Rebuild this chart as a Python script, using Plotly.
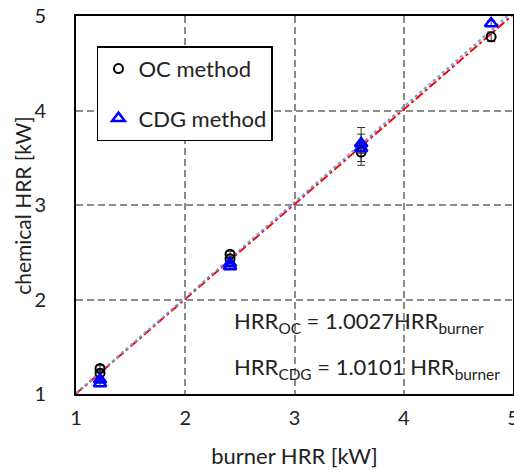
import plotly.graph_objects as go

oc_x = [1.22, 1.22, 2.41, 2.41, 3.61, 3.61, 4.80]
oc_y = [1.27, 1.22, 2.48, 2.43, 3.62, 3.56, 4.78]
oc_err = [0.03, 0.03, 0.03, 0.03, 0.20, 0.10, 0.05]
cdg_x = [1.22, 1.22, 2.41, 2.41, 3.61, 3.61, 4.80]
cdg_y = [1.15, 1.11, 2.38, 2.35, 3.65, 3.60, 4.92]
cdg_err = [0.03, 0.03, 0.03, 0.03, 0.10, 0.05, 0.03]
fit_x = [1, 5]
oc_slope = 1.0027
cdg_slope = 1.0101
ticks = [1, 2, 3, 4, 5]

FONT = "Lato"
fig = go.Figure()
fig.add_trace(go.Scatter(x=fit_x, y=[oc_slope * v for v in fit_x], mode="lines",
                         line=dict(color="red", width=2, dash="dashdot"), showlegend=False))
fig.add_trace(go.Scatter(x=fit_x, y=[cdg_slope * v for v in fit_x], mode="lines",
                         line=dict(color="#6a9fd8", width=2, dash="dot"), showlegend=False))
fig.add_trace(go.Scatter(x=oc_x, y=oc_y, mode="markers", name="OC method",
                         marker=dict(symbol="circle-open", size=9, color="black", line=dict(width=2)),
                         error_y=dict(type="data", array=oc_err, color="#333", thickness=1, width=4),
                         legendgroup="a"))
fig.add_trace(go.Scatter(x=cdg_x, y=cdg_y, mode="markers", name="CDG method",
                         marker=dict(symbol="triangle-up-open", size=11, color="blue", line=dict(width=2.5)),
                         error_y=dict(type="data", array=cdg_err, color="#333", thickness=1, width=4),
                         legendgroup="b"))

axis_common = dict(range=[1, 5], tickvals=ticks, showgrid=True, gridcolor="#8c8c8c",
                   griddash="7px,4px", gridwidth=1.5, showline=True, linecolor="black", linewidth=2,
                   mirror=True, zeroline=False, ticks="", tickfont=dict(size=20, color="#222"),
                   title_font=dict(size=22, color="#222"), automargin=False,
                   ticklabeloverflow="allow")
fig.update_xaxes(**axis_common, title_text="burner HRR [kW]", ticklabelstandoff=5, title_standoff=21)
fig.update_yaxes(**axis_common, ticklabelstandoff=24)

fig.add_annotation(x=-0.124, y=0.5, xref="paper", yref="paper", xanchor="center", yanchor="middle",
                   text="chemical HRR [kW]", textangle=-90, showarrow=False,
                   font=dict(size=21, color="#222", family=FONT))
fig.add_annotation(x=0.358, y=0.19, xref="paper", yref="paper", xanchor="left", yanchor="middle",
                   text="HRR<sub>OC</sub> = 1.0027HRR<sub>burner</sub>", showarrow=False,
                   font=dict(size=22, color="#222", family=FONT))
fig.add_annotation(x=0.358, y=0.07, xref="paper", yref="paper", xanchor="left", yanchor="middle",
                   text="HRR<sub>CDG</sub> = 1.0101 HRR<sub>burner</sub>", showarrow=False,
                   font=dict(size=22, color="#222", family=FONT))

fig.update_layout(
    width=514, height=473, margin=dict(l=76, r=1, t=16, b=79),
    paper_bgcolor="white", plot_bgcolor="white",
    font=dict(family=FONT, color="#222"),
    legend=dict(x=0.048, y=0.92, xanchor="left", yanchor="top", bordercolor="black", borderwidth=1.5,
                bgcolor="white", font=dict(size=22), traceorder="grouped", tracegroupgap=18,
                itemwidth=30),
)
fig.write_html("out.html", config={"displayModeBar": False},
               post_script="document.body.style.margin='0';document.body.style.overflow='hidden';")
